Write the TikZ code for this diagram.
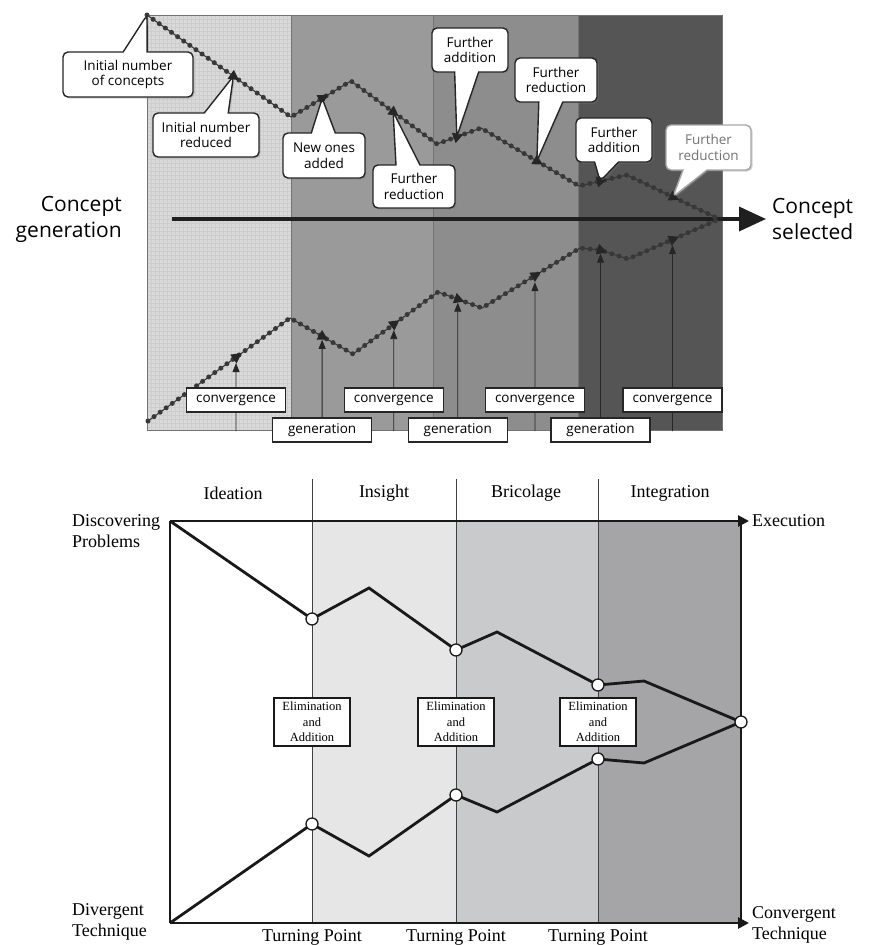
\documentclass[tikz,border=0pt]{standalone}
\usepackage{fontspec}
\setmainfont{Liberation Serif}
\newfontfamily\topsans{Open Sans}
\usetikzlibrary{arrows.meta,shapes.geometric,shapes.callouts,shadows}
\definecolor{tbA}{HTML}{D9D9D9}
\definecolor{tbB}{HTML}{9A9A9A}
\definecolor{tbC}{HTML}{8D8D8D}
\definecolor{tbD}{HTML}{555555}
\definecolor{bbB}{HTML}{E6E6E6}
\definecolor{bbC}{HTML}{C9CACC}
\definecolor{bbD}{HTML}{A5A5A8}
\definecolor{bead}{HTML}{383838}
\definecolor{gridc}{HTML}{CDCDCD}
\tikzset{
  beadbase/.style={draw=bead, line width=1.1pt},
  beads/.style={draw=bead, line width=5pt, line cap=round, dash pattern=on 0pt off 7.5pt},
  tri/.style={isosceles triangle, isosceles triangle apex angle=70, isosceles triangle stretches,
     minimum width=11pt, minimum height=10pt, inner sep=0pt, fill=black!85},
  uparr/.style={draw=black!85, line width=0.8pt, -{Triangle[length=9pt,width=7pt]}},
  lblbox/.style={draw=black!85, line width=1.4pt, fill=white, minimum width=99pt, minimum height=24pt,
     inner sep=0pt, font={\topsans\fontsize{13.5}{15}\selectfont}},
  callbox/.style={rectangle callout, draw=black!85, line width=1.4pt, fill=white, rounded corners=5pt,
     align=center, inner sep=0pt, callout pointer width=24pt,
     font={\topsans\fontsize{13.5}{15.5}\selectfont},
     drop shadow={shadow xshift=1.5pt, shadow yshift=-1.5pt, opacity=0.35}},
  mainarrow/.style={draw=black!88, line width=3.6pt, -{Triangle[length=27pt,width=24pt]}},
  bigsans/.style={font={\topsans\fontsize{21}{26}\selectfont}, inner sep=0pt},
  axis/.style={draw=black!90, line width=2.6pt},
  axarr/.style={axis, -{Triangle[length=11pt,width=11pt]}},
  bandline/.style={draw=black!75, line width=0.8pt},
  pline/.style={draw=black!90, line width=2.8pt, line join=miter},
  turn/.style={circle, draw=black!90, line width=1.3pt, fill=white, minimum size=12pt, inner sep=0pt},
  elimbox/.style={draw=black!90, line width=2.4pt, fill=white, minimum width=76pt, minimum height=48pt,
     inner sep=0pt, align=center, font={\fontsize{12.5}{15.5}\selectfont}},
  serif18/.style={font={\fontsize{18}{21}\selectfont}, inner sep=0pt},
}
\begin{document}
\begin{tikzpicture}[x=1pt,y=-1pt]
\useasboundingbox (0,0) rectangle (869,945);
\clip (0,0) rectangle (869,945);
\fill[white] (0,0) rectangle (869,945);

% ================= TOP PANEL =================
\fill[tbA] (147,15) rectangle (291,430);
\foreach \gx in {151,155,...,289} \draw[gridc, line width=0.3pt] (\gx,15) -- (\gx,430);
\foreach \gy in {19,23,...,429} \draw[gridc, line width=0.3pt] (147,\gy) -- (291,\gy);
\fill[tbB] (291,15) rectangle (433,430);
\fill[tbC] (433,15) rectangle (578,430);
\fill[tbD] (578,15) rectangle (722,430);
\draw[black!55, line width=0.6pt] (147,15) rectangle (722,430);
\draw[black!55, line width=0.8pt] (291,15) -- (291,430);
\draw[black!55, line width=0.8pt] (433,15) -- (433,430);
\draw[black!55, line width=0.8pt] (578,15) -- (578,430);

% main arrow
\coordinate (ga) at (172,219);
\coordinate (sa) at (766,219);
\draw[mainarrow] (ga) -- (sa);
\node[bigsans, align=right, anchor=east] (cgen) at (122,219) {Concept\\generation};
\node[bigsans, align=left, anchor=west] (csel) at (772,219) {Concept\\selected};

% upper path
\coordinate (U0) at (147,15);
\coordinate (U1) at (291,117);
\coordinate (U2) at (351,81);
\coordinate (U3) at (437,144);
\coordinate (U4) at (481,128);
\coordinate (U5) at (579,186);
\coordinate (U6) at (627,175);
\coordinate (U7) at (717,218);
% lower path
\coordinate (L0) at (148,421);
\coordinate (L1) at (290,318);
\coordinate (L2) at (353,354);
\coordinate (L3) at (438,292);
\coordinate (L4) at (482,308);
\coordinate (L5) at (580,248);
\coordinate (L5b) at (600,250);
\coordinate (L6) at (628,259);
\coordinate (L7) at (717,220);

\draw[beadbase] (U0) -- (U1) -- (U2) -- (U3) -- (U4) -- (U5) -- (U6) -- (U7);
\draw[beads] (U0) -- (U1) -- (U2) -- (U3) -- (U4) -- (U5) -- (U6) -- (U7);
\draw[beadbase] (L0) -- (L1) -- (L2) -- (L3) -- (L4) -- (L5) -- (L5b) -- (L6) -- (L7);
\draw[beads] (L0) -- (L1) -- (L2) -- (L3) -- (L4) -- (L5) -- (L5b) -- (L6) -- (L7);

\path (U0) -- node[pos=0.6, sloped, tri] (m1) {} (U1)
           -- node[pos=0.52, sloped, tri] (m2) {} (U2)
           -- node[pos=0.49, sloped, tri] (m3) {} (U3)
           -- node[pos=0.45, sloped, tri] (m4) {} (U4)
           -- node[pos=0.57, sloped, tri] (m5) {} (U5)
           -- node[pos=0.44, sloped, tri] (m6) {} (U6)
           -- node[pos=0.51, sloped, tri] (m7) {} (U7);
\path (L0) -- node[pos=0.62, sloped, tri] (n1) {} (L1)
           -- node[pos=0.51, sloped, tri] (n2) {} (L2)
           -- node[pos=0.48, sloped, tri] (n3) {} (L3)
           -- node[pos=0.45, sloped, tri] (n4) {} (L4)
           -- node[pos=0.54, sloped, tri] (n5) {} (L5)
           -- (L5b) -- node[pos=0.02, sloped, tri] (n6) {} (L6)
           -- node[pos=0.5, sloped, tri] (n7) {} (L7);

% vertical arrows from bottom
\coordinate (bot) at (0,431);
\coordinate (rowc) at (0,400);
\coordinate (rowg) at (0,430);
\foreach \k in {1,...,7} \draw[uparr] (n\k |- bot) -- (n\k);

\node[lblbox] (cv1) at (n1 |- rowc) {convergence};
\node[lblbox] (cv2) at (n3 |- rowc) {convergence};
\node[lblbox] (cv3) at (n5 |- rowc) {convergence};
\node[lblbox] (cv4) at (n7 |- rowc) {convergence};
\node[lblbox] (gn1) at (n2 |- rowg) {generation};
\node[lblbox] (gn2) at (n4 |- rowg) {generation};
\node[lblbox] (gn3) at (n6 |- rowg) {generation};

% callouts
\node[callbox, callout absolute pointer={(U0)}, minimum width=130pt, minimum height=45pt] (k1) at (128,74.5) {Initial number\\of concepts};
\node[callbox, callout absolute pointer={(m1)}, minimum width=106pt, minimum height=44pt] (k2) at (206,135) {Initial number\\reduced};
\node[callbox, callout absolute pointer={(m2)}, minimum width=82pt, minimum height=45pt] (k3) at (324,155.5) {New ones\\added};
\node[callbox, callout absolute pointer={(m3)}, minimum width=82pt, minimum height=43pt] (k4) at (414,186.5) {Further\\reduction};
\node[callbox, callout absolute pointer={(m4)}, minimum width=76pt, minimum height=44pt] (k5) at (470,50) {Further\\addition};
\node[callbox, callout absolute pointer={(m5)}, minimum width=82pt, minimum height=44pt] (k6) at (556,80) {Further\\reduction};
\node[callbox, callout absolute pointer={(m6)}, minimum width=76pt, minimum height=44pt] (k7) at (614,140) {Further\\addition};
\node[callbox, draw=black!35, text=black!55, callout absolute pointer={(m7)}, minimum width=85pt, minimum height=45pt] (k8) at (708.5,147.5) {Further\\reduction};

% ================= BOTTOM PANEL =================
\fill[bbB] (312,521) rectangle (456,923);
\fill[bbC] (456,521) rectangle (598,923);
\fill[bbD] (598,521) rectangle (741,923);
\draw[bandline] (312,479) -- (312,923);
\draw[bandline] (456,479) -- (456,923);
\draw[bandline] (598,479) -- (598,923);

\coordinate (O) at (170,923);
\coordinate (TL) at (170,521);
\coordinate (EX) at (749,521);
\coordinate (CX) at (749,923);
\coordinate (TR) at (741,521);
\coordinate (BR) at (741,923);
\draw[axis] (O) -- (TL);
\draw[axis] (TR) -- (BR);
\draw[axarr] (TL) -- (EX);
\draw[axarr] (O) -- (CX);

% upper line
\coordinate (A1) at (312,619);
\coordinate (P1) at (369,588);
\coordinate (A2) at (456,650);
\coordinate (P2) at (497,632);
\coordinate (A3) at (598,685);
\coordinate (P3) at (644,681);
\coordinate (AE) at (741,722);
% lower line
\coordinate (B1) at (312,824);
\coordinate (Q1) at (369,856);
\coordinate (B2) at (456,795);
\coordinate (Q2) at (497,812);
\coordinate (B3) at (598,759);
\coordinate (Q3) at (644,763);

\draw[pline] (TL) -- (A1) -- (P1) -- (A2) -- (P2) -- (A3) -- (P3) -- (AE);
\draw[pline] (O) -- (B1) -- (Q1) -- (B2) -- (Q2) -- (B3) -- (Q3) -- (AE);

\foreach \p in {A1,A2,A3,B1,B2,B3,AE} \node[turn] (t\p) at (\p) {};

\node[elimbox] (e1) at (312,722) {Elimination\\and\\Addition};
\node[elimbox] (e2) at (456,722) {Elimination\\and\\Addition};
\node[elimbox] (e3) at (598,722) {Elimination\\and\\Addition};

\node[serif18] (h1) at (233,493) {Ideation};
\node[serif18] (h2) at (384,493) {Insight};
\node[serif18] (h3) at (526,493) {Bricolage};
\node[serif18] (h4) at (670,493) {Integration};

\node[serif18, anchor=west] (exe) at (752,521) {Execution};
\node[serif18, anchor=west, align=left] (conv) at (752,925) {Convergent\\Technique};
\node[serif18, anchor=west, align=left] (disc) at (72,531) {Discovering\\Problems};
\node[serif18, anchor=west, align=left] (dive) at (72,921.5) {Divergent\\Technique};

\node[serif18, anchor=north] (tp1) at (312,929) {Turning Point};
\node[serif18, anchor=north] (tp2) at (456,929) {Turning Point};
\node[serif18, anchor=north] (tp3) at (598,929) {Turning Point};
\end{tikzpicture}
\end{document}
